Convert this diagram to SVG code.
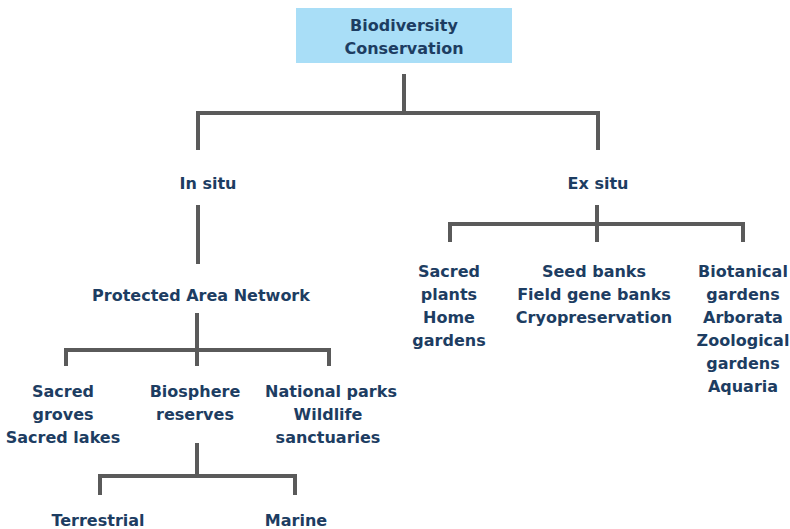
<svg xmlns="http://www.w3.org/2000/svg" width="790" height="529" viewBox="0 0 790 529">
<style>
text{font-family:"DejaVu Sans",Verdana,sans-serif;font-weight:bold;font-size:16px;fill:#1d3d62;text-anchor:middle}
.c path{fill:none;stroke:#5a5a5a;stroke-width:4}
</style>
<rect width="790" height="529" fill="#fff"/>
<g class="c" id="connectors">
<path d="M404 74V113M198 150V113H598V150"/>
<path d="M198 205V264"/>
<path d="M197 313V350M66 366V350H329V366M197 350V366"/>
<path d="M197 443V476M100 495V476H295V495"/>
<path d="M597 205V224M450 242V224H743V242M597 224V242"/>
</g>
<g id="root"><rect x="296" y="8" width="216" height="55" fill="#a9def7"/><text x="404" y="31">Biodiversity</text><text x="404" y="54">Conservation</text></g>
<g id="insitu"><text x="208" y="189">In situ</text></g>
<g id="exsitu"><text x="598" y="189">Ex situ</text></g>
<g id="pan"><text x="201" y="301">Protected Area Network</text></g>
<g id="sacred"><text x="63" y="397">Sacred</text><text x="63" y="420">groves</text><text x="63" y="443">Sacred lakes</text></g>
<g id="bio"><text x="195" y="397">Biosphere</text><text x="195" y="420">reserves</text></g>
<g id="national"><text x="331" y="397">National parks</text><text x="328" y="420">Wildlife</text><text x="328" y="443">sanctuaries</text></g>
<g id="terrestrial"><text x="98" y="526">Terrestrial</text></g>
<g id="marine"><text x="296" y="526">Marine</text></g>
<g id="plants"><text x="449" y="277">Sacred</text><text x="449" y="300">plants</text><text x="449" y="323">Home</text><text x="449" y="346">gardens</text></g>
<g id="seed"><text x="594" y="277">Seed banks</text><text x="594" y="300">Field gene banks</text><text x="594" y="323">Cryopreservation</text></g>
<g id="gardens"><text x="743" y="277">Biotanical</text><text x="743" y="300">gardens</text><text x="743" y="323">Arborata</text><text x="743" y="346">Zoological</text><text x="743" y="369">gardens</text><text x="743" y="392">Aquaria</text></g>
</svg>
